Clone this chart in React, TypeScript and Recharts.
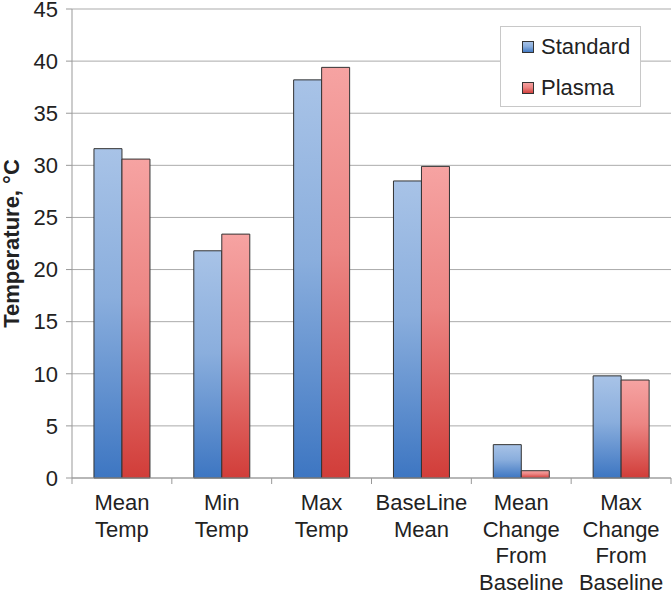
import React from "react";
import { BarChart, Bar, XAxis, YAxis, CartesianGrid } from "recharts";

const categories = [
  "Mean Temp",
  "Min Temp",
  "Max Temp",
  "BaseLine Mean",
  "Mean Change From Baseline",
  "Max Change From Baseline",
];
const categoryLines = [
  ["Mean", "Temp"],
  ["Min", "Temp"],
  ["Max", "Temp"],
  ["BaseLine", "Mean"],
  ["Mean", "Change", "From", "Baseline"],
  ["Max", "Change", "From", "Baseline"],
];
const standard = [31.6, 21.8, 38.2, 28.5, 3.2, 9.8];
const plasma = [30.6, 23.4, 39.4, 29.9, 0.7, 9.4];
const yTicks = [0, 5, 10, 15, 20, 25, 30, 35, 40, 45];
const seriesNames = ["Standard", "Plasma"];

const data = categories.map((c, i) => ({
  name: c,
  Standard: standard[i],
  Plasma: plasma[i],
}));

const FONT = "'Liberation Sans', Arial, sans-serif";
const PLOT_LEFT = 72;
const PLOT_RIGHT = 671;
const BAND = (PLOT_RIGHT - PLOT_LEFT) / categories.length;

const XTick = (props: any) => {
  const { x, y, payload, index } = props;
  const i = typeof index === "number" ? index : payload.index;
  const lines = categoryLines[i] || [String(payload.value)];
  const axisY = y - 8;
  return (
    <g>
      <line x1={x - BAND / 2} x2={x - BAND / 2} y1={axisY} y2={axisY + 6} stroke="#999" strokeWidth={1} />
      {i === categories.length - 1 && (
        <line x1={x + BAND / 2} x2={x + BAND / 2} y1={axisY} y2={axisY + 6} stroke="#999" strokeWidth={1} />
      )}
      <text x={x} y={axisY + 32} textAnchor="middle" fontFamily={FONT} fontSize={22} fill="#222">
        {lines.map((l, k) => (
          <tspan key={k} x={x} dy={k === 0 ? 0 : 26.5}>
            {l}
          </tspan>
        ))}
      </text>
    </g>
  );
};

const YLabel = (props: any) => {
  const vb = props.viewBox || {};
  const cy = (vb.y || 8) + (vb.height || 470) / 2;
  const cx = 11;
  return (
    <text
      x={cx}
      y={cy}
      transform={`rotate(-90, ${cx}, ${cy})`}
      textAnchor="middle"
      dominantBaseline="central"
      fontFamily={FONT}
      fontSize={22}
      fontWeight="bold"
      fill="#222"
    >
      Temperature, °C
    </text>
  );
};

const LegendOverlay = () => (
  <div
    style={{
      position: "absolute",
      left: 500,
      top: 26,
      width: 139,
      height: 79,
      border: "1px solid #c8c8c8",
      background: "#fff",
      fontFamily: FONT,
      fontSize: 22,
      color: "#222",
    }}
  >
    {seriesNames.map((name, k) => (
      <div
        key={name}
        style={{
          position: "absolute",
          left: 21,
          top: k === 0 ? 8 : 49,
          height: 24,
          display: "flex",
          alignItems: "center",
          whiteSpace: "nowrap",
        }}
      >
        <svg width={12} height={12} style={{ marginRight: 7, display: "block" }}>
          <rect
            x={0.5}
            y={0.5}
            width={11}
            height={11}
            fill={k === 0 ? "url(#gradStd)" : "url(#gradPla)"}
            stroke="#333"
            strokeWidth={1}
          />
        </svg>
        <span style={{ lineHeight: "24px" }}>{name}</span>
      </div>
    ))}
  </div>
);

export default function App() {
  return (
    <div style={{ position: "absolute", left: 0, top: 0, width: 672, height: 593, background: "#fff" }}>
      <BarChart
        width={672}
        height={593}
        data={data}
        margin={{ top: 9, right: 1, bottom: 5, left: 0 }}
        barCategoryGap="22%"
        barGap={0}
      >
        <defs>
          <linearGradient id="gradStd" x1="0" y1="0" x2="0" y2="1">
            <stop offset="0%" stopColor="#a8c3e7" />
            <stop offset="45%" stopColor="#8aaedd" />
            <stop offset="100%" stopColor="#3d76c2" />
          </linearGradient>
          <linearGradient id="gradPla" x1="0" y1="0" x2="0" y2="1">
            <stop offset="0%" stopColor="#f6a3a2" />
            <stop offset="45%" stopColor="#ec8583" />
            <stop offset="100%" stopColor="#d13d39" />
          </linearGradient>
        </defs>
        <CartesianGrid vertical={false} stroke="#ababab" strokeWidth={1} />
        <XAxis
          dataKey="name"
          interval={0}
          height={110}
          axisLine={{ stroke: "#999" }}
          tickLine={false}
          tick={<XTick />}
        />
        <YAxis
          width={72}
          domain={[0, 45]}
          ticks={yTicks}
          interval={0}
          axisLine={{ stroke: "#999" }}
          tickLine={{ stroke: "#999" }}
          tickSize={6}
          tickMargin={8}
          tick={{ fontFamily: FONT, fontSize: 22, fill: "#222" }}
          label={<YLabel />}
        />
        <Bar dataKey="Standard" fill="url(#gradStd)" stroke="#333" strokeWidth={1} isAnimationActive={false} />
        <Bar dataKey="Plasma" fill="url(#gradPla)" stroke="#333" strokeWidth={1} isAnimationActive={false} />
      </BarChart>
      <LegendOverlay />
    </div>
  );
}
